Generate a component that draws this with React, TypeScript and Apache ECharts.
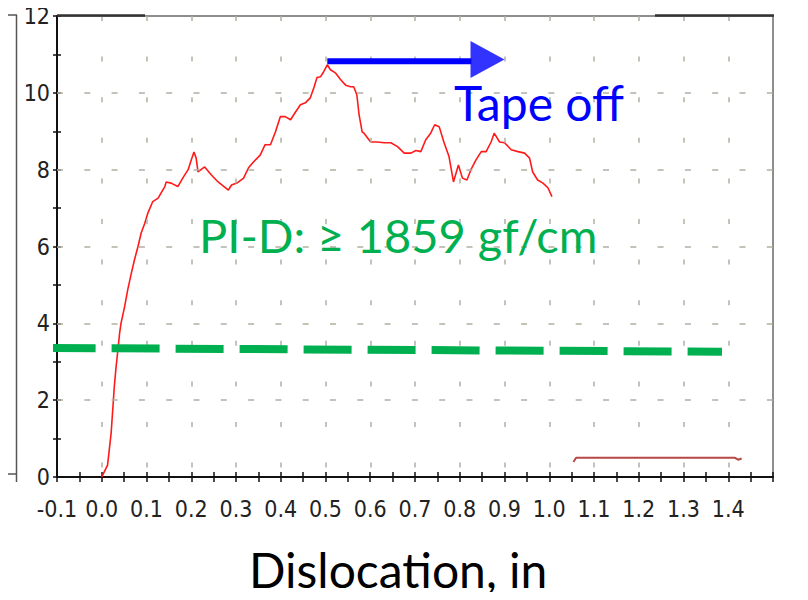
import React, { useEffect, useRef } from "react";
import * as echarts from "echarts";

const forceX = [
  0.0, 0.002, 0.013, 0.021, 0.025, 0.028, 0.032, 0.036, 0.04, 0.043, 0.051, 0.058, 0.066, 0.073, 0.081, 0.088,
  0.096, 0.103, 0.114, 0.126, 0.133, 0.141, 0.144, 0.155, 0.17, 0.182, 0.193, 0.2, 0.206, 0.211, 0.215,
  0.23, 0.245, 0.26, 0.283, 0.29, 0.302, 0.317, 0.328, 0.339, 0.354, 0.365, 0.377, 0.388, 0.399, 0.41,
  0.422, 0.433, 0.444, 0.455, 0.466, 0.474, 0.481, 0.489, 0.496, 0.504, 0.511, 0.522, 0.534, 0.545, 0.556,
  0.563, 0.57, 0.575, 0.582, 0.586, 0.601, 0.616, 0.631, 0.646, 0.661, 0.676, 0.691, 0.702, 0.713, 0.724,
  0.735, 0.744, 0.754, 0.765, 0.776, 0.786, 0.797, 0.806, 0.816, 0.825, 0.836, 0.848, 0.859, 0.87, 0.877,
  0.889, 0.9, 0.915, 0.93, 0.945, 0.956, 0.963, 0.974, 0.986, 0.997, 1.006,
];
const forceY = [
  0.0, 0.05, 0.31, 1.15, 1.83, 2.35, 2.86, 3.3, 3.75, 4.0, 4.43, 4.87, 5.3, 5.65, 6.0, 6.35,
  6.6, 6.87, 7.17, 7.26, 7.4, 7.56, 7.68, 7.65, 7.56, 7.8, 8.0, 8.25, 8.46, 8.3, 7.94,
  8.07, 7.86, 7.68, 7.47, 7.6, 7.65, 7.78, 8.05, 8.2, 8.38, 8.65, 8.65, 8.98, 9.38, 9.38,
  9.3, 9.5, 9.69, 9.74, 9.87, 10.13, 10.4, 10.42, 10.55, 10.73, 10.6, 10.52, 10.34, 10.2, 10.16,
  10.16, 9.95, 9.43, 8.98, 8.95, 8.72, 8.72, 8.7, 8.7, 8.6, 8.43, 8.43, 8.5, 8.47, 8.78,
  8.95, 9.17, 9.12, 8.7, 8.34, 7.68, 8.12, 7.78, 7.73, 8.0, 8.25, 8.47, 8.47, 8.72, 8.95,
  8.72, 8.7, 8.52, 8.47, 8.43, 8.3, 7.94, 7.73, 7.65, 7.53, 7.3,
];

const tailX = [1.054, 1.06, 1.14, 1.415, 1.422, 1.43];
const tailY = [0.39, 0.5, 0.5, 0.5, 0.45, 0.48];

const thresholdX = [-0.121, 1.386];
const thresholdY = [3.36, 3.26];

const arrowX = [0.504, 0.826];
const arrowY = [10.82, 10.82];
const arrowHead = [0.862, 10.87];

const xMin = -0.1;
const xMax = 1.5;
const yMin = 0;
const yMax = 12;
const xGridValues = [0.0, 0.1, 0.2, 0.3, 0.4, 0.5, 0.6, 0.7, 0.8, 0.9, 1.0, 1.1, 1.2, 1.3, 1.4];
const yGridValues = [2, 4, 6, 8, 10];

const zip = (a: number[], b: number[]) => a.map((v, i) => [v, b[i]]);

const tickFont = '"Liberation Sans Narrow", "DejaVu Sans Condensed", "DejaVu Sans", sans-serif';
const textFont = 'Lato, "Open Sans", sans-serif';
const gridDash = "#b3b0a2";

export default function App() {
  const ref = useRef<HTMLDivElement>(null);
  useEffect(() => {
    if (!ref.current) return;
    const chart = echarts.init(ref.current, undefined, { renderer: "svg" });
    const xBase = {
      type: "value" as const,
      min: xMin,
      max: xMax,
      interval: 0.1,
      position: "bottom" as const,
      splitLine: { show: false },
    };
    const yBase = {
      type: "value" as const,
      min: yMin,
      max: yMax,
      interval: 2,
      position: "left" as const,
      splitLine: { show: false },
    };
    const tickStyle = { color: "#111", width: 1.5 };
    const gridLines = [
      ...xGridValues.map((v) => [
        { coord: [v, yMax] },
        { coord: [v, yMin] },
      ]),
      ...yGridValues.map((v) => [
        { coord: [xMin, v], lineStyle: { type: [6, 21.3] } },
        { coord: [xMax, v] },
      ]),
    ];
    chart.setOption({
      animation: false,
      backgroundColor: "#ffffff",
      grid: {
        left: 57,
        top: 16,
        right: 35,
        bottom: 123,
        show: true,
        borderColor: "#6a6a6a",
        borderWidth: 1.5,
        backgroundColor: "transparent",
      },
      xAxis: [
        {
          ...xBase,
          axisLine: { show: true, onZero: false, lineStyle: { color: "#111", width: 2 } },
          axisTick: { show: true, length: 5, lineStyle: tickStyle },
          minorTick: { show: true, splitNumber: 2, length: 5, lineStyle: tickStyle },
          axisLabel: {
            margin: 20,
            fontFamily: tickFont,
            fontSize: 23,
            color: "#222",
            formatter: (v: number) => (v > 1.45 ? "" : v.toFixed(1)),
          },
        },
        {
          ...xBase,
          axisLine: { show: false, onZero: false },
          axisTick: { show: true, inside: true, length: 5, lineStyle: tickStyle },
          minorTick: { show: true, splitNumber: 2, length: 5, lineStyle: tickStyle },
          axisLabel: { show: false },
        },
      ],
      yAxis: [
        {
          ...yBase,
          axisLine: { show: true, onZero: false, lineStyle: { color: "#111", width: 2 } },
          axisTick: { show: true, length: 4, lineStyle: tickStyle },
          minorTick: { show: true, splitNumber: 2, length: 4, lineStyle: tickStyle },
          axisLabel: {
            margin: 7,
            fontFamily: tickFont,
            fontSize: 23,
            color: "#222",
          },
        },
        {
          ...yBase,
          axisLine: { show: false, onZero: false },
          axisTick: { show: true, inside: true, length: 4, lineStyle: tickStyle },
          minorTick: { show: true, splitNumber: 2, length: 4, lineStyle: tickStyle },
          axisLabel: { show: false },
        },
      ],
      series: [
        {
          type: "line",
          data: [],
          symbol: "none",
          silent: true,
          z: 1,
          markLine: {
            silent: true,
            symbol: ["none", "none"],
            label: { show: false },
            emphasis: { disabled: true },
            lineStyle: { color: gridDash, width: 1.5, type: [5, 35.6], cap: "butt" },
            data: gridLines,
          },
        },
        {
          type: "line",
          data: zip(forceX, forceY),
          showSymbol: false,
          symbol: "none",
          lineStyle: { color: "#ff1a1a", width: 1.6 },
          z: 3,
        },
        {
          type: "line",
          data: zip(tailX, tailY),
          symbol: "none",
          lineStyle: { color: "#b84848", width: 2 },
          z: 3,
        },
        {
          type: "line",
          data: zip(thresholdX, thresholdY),
          symbol: "none",
          clip: false,
          lineStyle: { color: "#00b050", width: 8, type: [48, 16], cap: "butt" },
          z: 5,
        },
        {
          type: "line",
          data: zip(arrowX, arrowY),
          symbol: "none",
          lineStyle: { color: "#0000ff", width: 6, cap: "butt" },
          z: 6,
        },
        {
          type: "scatter",
          data: [arrowHead],
          symbol: "path://M0,0L1,0.5L0,1Z",
          symbolSize: [34, 37],
          itemStyle: { color: "#0000ff" },
          z: 6,
        },
      ],
      graphic: [
        { type: "line", shape: { x1: 16.5, y1: 15, x2: 16.5, y2: 482 }, style: { stroke: "#555", lineWidth: 1.5 } },
        { type: "line", shape: { x1: 0, y1: 15, x2: 17, y2: 15 }, style: { stroke: "#555", lineWidth: 1.5 } },
        { type: "line", shape: { x1: 0, y1: 474, x2: 17, y2: 474 }, style: { stroke: "#555", lineWidth: 1.5 } },
        { type: "line", shape: { x1: 6, y1: 90, x2: 8, y2: 90 }, style: { stroke: "#888", lineWidth: 1.5 } },
        { type: "line", shape: { x1: 6, y1: 169, x2: 8, y2: 169 }, style: { stroke: "#888", lineWidth: 1.5 } },
        { type: "line", shape: { x1: 6, y1: 246, x2: 8, y2: 246 }, style: { stroke: "#888", lineWidth: 1.5 } },
        { type: "line", shape: { x1: 6, y1: 322, x2: 8, y2: 322 }, style: { stroke: "#888", lineWidth: 1.5 } },
        { type: "line", shape: { x1: 6, y1: 398, x2: 8, y2: 398 }, style: { stroke: "#888", lineWidth: 1.5 } },
        { type: "line", shape: { x1: 57, y1: 15.5, x2: 145, y2: 15.5 }, style: { stroke: "#333", lineWidth: 2.5 }, z: 10 },
        { type: "line", shape: { x1: 655, y1: 15.5, x2: 774, y2: 15.5 }, style: { stroke: "#333", lineWidth: 2.5 }, z: 10 },
        {
          type: "text",
          left: 454,
          top: 78,
          style: { text: "Tape off", fill: "#0000ff", font: `48px ${textFont}` },
          z: 10,
        },
        {
          type: "text",
          left: 199,
          top: 211,
          style: { text: "PI-D: ≥ 1859 gf/cm", fill: "#00b050", font: `47px ${textFont}` },
          z: 10,
        },
        {
          type: "text",
          left: 249,
          top: 545,
          style: { text: "Dislocation, in", fill: "#000000", font: `48px ${textFont}` },
          z: 10,
        },
      ],
    });
    return () => chart.dispose();
  }, []);
  return <div ref={ref} style={{ width: 808, height: 600, margin: -8 }} />;
}
